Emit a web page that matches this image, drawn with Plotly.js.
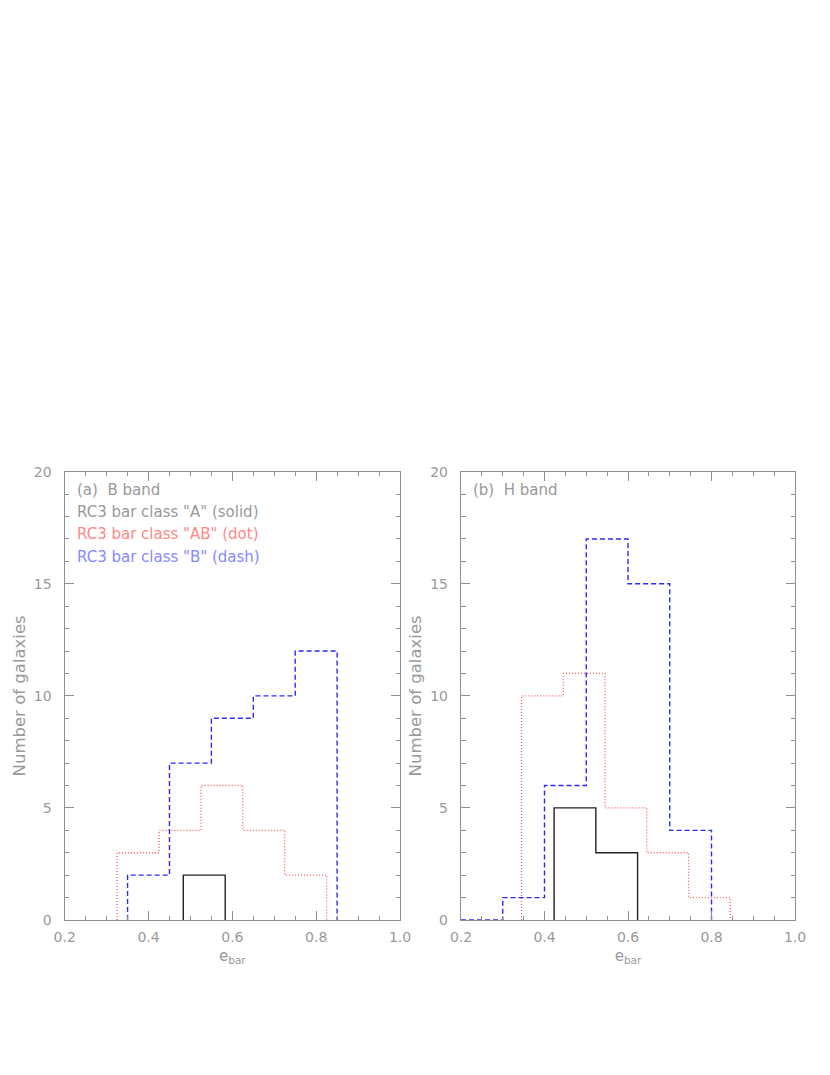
<!DOCTYPE html>
<html>
<head>
<meta charset="utf-8">
<script src="https://cdn.plot.ly/plotly-3.0.1.min.js"></script>
<style>
html,body{margin:0;padding:0;background:#fff;}
#chart{width:830px;height:1075px;}
</style>
</head>
<body>
<div id="chart"></div>
<script>
// Panel (a) B band
const bEdgesA  = [0.483, 0.583];
const bCountsA = [2];
const bEdgesAB = [0.325, 0.425, 0.525, 0.625, 0.725, 0.825];
const bCountsAB = [3, 4, 6, 4, 2];
const bEdgesB  = [0.35, 0.45, 0.55, 0.65, 0.75, 0.85];
const bCountsB = [2, 7, 9, 10, 12];

// Panel (b) H band
const hEdgesA  = [0.423, 0.523, 0.623];
const hCountsA = [5, 3];
const hEdgesAB = [0.345, 0.445, 0.545, 0.645, 0.745, 0.845];
const hCountsAB = [10, 11, 5, 3, 1];
const hEdgesB  = [0.2, 0.3, 0.4, 0.5, 0.6, 0.7, 0.8];
const hCountsB = [0, 1, 6, 17, 15, 4];

const xTickVals = [0.2, 0.4, 0.6, 0.8, 1.0];
const xTickText = ["0.2", "0.4", "0.6", "0.8", "1.0"];
const yTickVals = [0, 5, 10, 15, 20];
const yTickText = ["0", "5", "10", "15", "20"];

const panelLabels = ["(a)  B band", "(b)  H band"];
const legendTexts = ['RC3 bar class "A" (solid)', 'RC3 bar class "AB" (dot)', 'RC3 bar class "B" (dash)'];

function stepPts(edges, counts) {
  const x = [edges[0]], y = [0];
  for (let i = 0; i < counts.length; i++) { x.push(edges[i]); y.push(counts[i]); }
  x.push(edges[edges.length - 1]); y.push(0);
  return {x, y};
}

const styles = {
  A:  {color: '#222222', width: 1.4, dash: 'solid'},
  AB: {color: '#ff5a5a', width: 1.3, dash: '1px,2px'},
  B:  {color: '#2a2aff', width: 1.4, dash: '5px,3px'}
};

function tr(edges, counts, st, xa, ya) {
  const p = stepPts(edges, counts);
  return {x: p.x, y: p.y, xaxis: xa, yaxis: ya, type: 'scatter', mode: 'lines',
    line: {shape: 'hv', color: st.color, width: st.width, dash: st.dash},
    hoverinfo: 'skip', showlegend: false};
}

const data = [
  tr(bEdgesAB, bCountsAB, styles.AB, 'x', 'y'),
  tr(bEdgesB, bCountsB, styles.B, 'x', 'y'),
  tr(bEdgesA, bCountsA, styles.A, 'x', 'y'),
  tr(hEdgesAB, hCountsAB, styles.AB, 'x2', 'y2'),
  tr(hEdgesB, hCountsB, styles.B, 'x2', 'y2'),
  tr(hEdgesA, hCountsA, styles.A, 'x2', 'y2')
];

const W = 830, H = 1075;
const axCol = '#8f8f8f';
const txtCol = '#999999';
const fontFam = 'DejaVu Sans, Open Sans, sans-serif';

function xaxis(domain, anchor) {
  return {domain: domain, anchor: anchor, range: [0.2, 1.0], tickmode: 'array',
    tickvals: xTickVals, ticktext: xTickText, ticks: 'inside', ticklen: 9, tickwidth: 1,
    tickcolor: axCol, showline: true, linecolor: axCol, linewidth: 1.2, mirror: 'ticks',
    showgrid: false, zeroline: false, ticklabelstandoff: 4,
    minor: {ticks: 'inside', ticklen: 4.5, tickwidth: 1, tickcolor: axCol, dtick: 0.05, tick0: 0.2, showgrid: false},
    tickfont: {family: fontFam, size: 14, color: txtCol},
    title: {text: 'e<sub>bar</sub>', font: {family: fontFam, size: 15, color: txtCol}, standoff: 6}};
}
function yaxis(domain, anchor) {
  return {domain: domain, anchor: anchor, range: [0, 20], tickmode: 'array',
    tickvals: yTickVals, ticktext: yTickText, ticks: 'inside', ticklen: 9, tickwidth: 1,
    tickcolor: axCol, showline: true, linecolor: axCol, linewidth: 1.2, mirror: 'ticks',
    showgrid: false, zeroline: false, ticklabelstandoff: 9,
    minor: {ticks: 'inside', ticklen: 4.5, tickwidth: 1, tickcolor: axCol, dtick: 1, tick0: 0, showgrid: false},
    tickfont: {family: fontFam, size: 14, color: txtCol},
    title: {text: 'Number of galaxies', font: {family: fontFam, size: 16.5, color: txtCol}, standoff: 4}};
}

const yDom = [(H - 920) / H, (H - 471.7) / H];
const layout = {
  width: W, height: H,
  margin: {l: 0, r: 0, t: 0, b: 0},
  paper_bgcolor: '#fff', plot_bgcolor: '#fff',
  showlegend: false,
  xaxis: xaxis([64.7 / W, 400 / W], 'y'),
  yaxis: yaxis(yDom, 'x'),
  xaxis2: xaxis([461 / W, 795 / W], 'y2'),
  yaxis2: yaxis(yDom, 'x2'),
  annotations: [
    {xref: 'x domain', yref: 'y domain', x: 0.03, y: 0.96, xanchor: 'left', yanchor: 'middle', showarrow: false,
      text: panelLabels[0], font: {family: fontFam, size: 15, color: txtCol}},
    {xref: 'x domain', yref: 'y domain', x: 0.03, y: 0.91, xanchor: 'left', yanchor: 'middle', showarrow: false,
      text: legendTexts[0], font: {family: fontFam, size: 15, color: txtCol}},
    {xref: 'x domain', yref: 'y domain', x: 0.03, y: 0.86, xanchor: 'left', yanchor: 'middle', showarrow: false,
      text: legendTexts[1], font: {family: fontFam, size: 15, color: '#ff8888'}},
    {xref: 'x domain', yref: 'y domain', x: 0.03, y: 0.81, xanchor: 'left', yanchor: 'middle', showarrow: false,
      text: legendTexts[2], font: {family: fontFam, size: 15, color: '#8888ff'}},
    {xref: 'x2 domain', yref: 'y2 domain', x: 0.03, y: 0.96, xanchor: 'left', yanchor: 'middle', showarrow: false,
      text: panelLabels[1], font: {family: fontFam, size: 15, color: txtCol}}
  ]
};

Plotly.newPlot('chart', data, layout, {displayModeBar: false, staticPlot: true});
</script>
</body>
</html>
